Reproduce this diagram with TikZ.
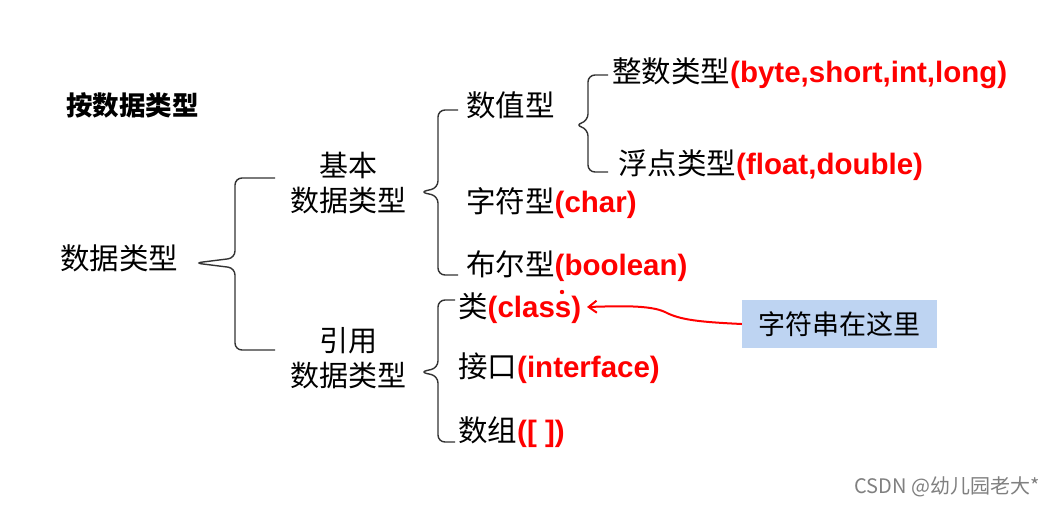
\documentclass[tikz,border=0pt]{standalone}
\usepackage{fontspec}
\setmainfont{Noto Sans CJK SC}
\newfontfamily\latinb{Liberation Sans}
\usetikzlibrary{arrows.meta}
\definecolor{boxblue}{RGB}{190,212,242}
\tikzset{
 lbl/.style={anchor=west,inner sep=0pt,font=\fontsize{29.5}{34}\selectfont},
 brc/.style={draw=black!80,line width=1.4pt,rounded corners=7pt},
}
\newcommand{\rp}[1]{{\color{red}\latinb\bfseries #1}}
\begin{document}
\begin{tikzpicture}[x=1pt,y=-1pt]
\useasboundingbox (0,0) rectangle (1054,504);
\fill[white] (0,0) rectangle (1054,504);
\node[lbl,font=\fontsize{26.5}{30}\selectfont\bfseries] (title) at (66,105) {按数据类型};
\node[lbl] (root) at (60,258) {数据类型};
\node[align=center,inner sep=0pt,font=\fontsize{29}{35}\selectfont] (basic) at (348,183) {基本\\数据类型};
\node[align=center,inner sep=0pt,font=\fontsize{29}{35}\selectfont] (ref) at (348,358) {引用\\数据类型};
\node[lbl] (num) at (466,105) {数值型};
\node[lbl] (chr) at (466,203) {字符型\rp{(char)}};
\node[lbl] (bool) at (466,266) {布尔型\rp{(boolean)}};
\node[lbl] (int) at (612,73) {整数类型\rp{(byte,short,int,long)}};
\node[lbl] (flt) at (618,165) {浮点类型\rp{(float,double)}};
\node[lbl] (cls) at (458,308) {类\rp{(class)}};
\node[lbl] (ifc) at (458,368) {接口\rp{(interface)}};
\node[lbl] (arr) at (458,432) {数组\rp{([ ])}};
\node[fill=boxblue,minimum width=195pt,minimum height=48pt,font=\fontsize{27}{31}\selectfont] (box) at (839.5,324) {字符串在这里};
\node[text=gray,anchor=east,font=\fontsize{20}{24}\selectfont,inner sep=0pt] (wm) at (1040,487) {CSDN @幼儿园老大*};
% braces
\draw[brc] (275,178) -- (235,178) -- (235,258) -- (195,263) -- (235,268) -- (235,350) -- (275,350);
\draw[brc] (458,110) -- (438,110) -- (438,188) -- (420,192) -- (438,196) -- (438,275) -- (458,275);
\draw[brc] (608,75) -- (588,75) -- (588,121) -- (575,125) -- (588,129) -- (588,172) -- (608,172);
\draw[brc] (455,300) -- (438,300) -- (438,368) -- (420,372) -- (438,376) -- (438,442) -- (455,442);
% arrow
\fill[red] (562,292) circle (2.2pt);
\coordinate (tip) at (587,307);
\draw[red,line width=2pt,-{Straight Barb[length=8pt,width=12pt]}] (box.west) .. controls (700,322) and (680,320) .. (665,312) .. controls (650,305) and (620,306) .. (tip);
\end{tikzpicture}
\end{document}
